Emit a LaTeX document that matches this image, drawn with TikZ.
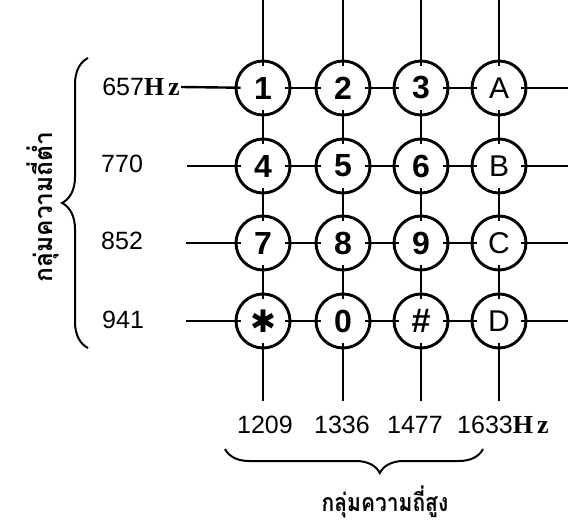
\documentclass[tikz,border=0pt]{standalone}
\usepackage{fontspec}
\setmainfont{Liberation Sans}
\newfontfamily\hzfont{Liberation Serif}
\newfontfamily\thaifont[Script=Thai]{Loma}
\newfontfamily\symfont{DejaVu Sans}
\usetikzlibrary{decorations.pathreplacing}
\newcommand{\hzlab}{{\hzfont\bfseries\fontsize{26}{26}\selectfont H\hspace{4pt}z}}
\begin{document}
\begin{tikzpicture}[x=1pt,y=-1pt,
  key/.style={circle,draw,line width=2.9pt,minimum size=54pt,inner sep=0pt,
    font=\fontsize{32}{32}\selectfont\bfseries},
  keyl/.style={key,font=\fontsize{30}{30}\selectfont},
  wire/.style={line width=2.4pt,shorten <=-6pt,shorten >=-6pt},
  wirein/.style={line width=2.4pt,shorten >=-6pt},
  wireout/.style={line width=2.4pt,shorten <=-6pt},
  freq/.style={inner sep=0pt,font=\fontsize{25}{25}\selectfont},
  bfreq/.style={inner sep=0pt,font=\fontsize{25}{25}\selectfont},
  thai/.style={inner sep=0pt,font=\thaifont\bfseries\fontsize{25}{25}\selectfont},
  bracel/.style={line width=2pt,decorate}
]
\useasboundingbox (0,0) rectangle (568,524);

% keys
\node[key] (k11) at (263,88) {1};
\node[key] (k12) at (343,88) {2};
\node[key] (k13) at (421,88) {3};
\node[keyl] (k14) at (499,88) {A};
\node[key] (k21) at (263,166) {4};
\node[key] (k22) at (343,166) {5};
\node[key] (k23) at (421,166) {6};
\node[keyl] (k24) at (499,166) {B};
\node[key] (k31) at (263,243) {7};
\node[key] (k32) at (343,243) {8};
\node[key] (k33) at (421,243) {9};
\node[keyl] (k34) at (499,243) {C};
\node[key] (k41) at (263,321) {{\symfont\fontsize{31}{31}\selectfont ✱}};
\node[key] (k42) at (343,321) {0};
\node[key,font=\fontsize{34}{34}\selectfont\bfseries] (k43) at (421,321) {\#};
\node[keyl] (k44) at (499,321) {D};

% free ends
\coordinate (t1) at (263,0);
\coordinate (t2) at (343,0);
\coordinate (t3) at (421,0);
\coordinate (t4) at (499,0);
\coordinate (b1) at (263,401);
\coordinate (b2) at (343,401);
\coordinate (b3) at (421,401);
\coordinate (b4) at (499,401);
\coordinate (l2) at (187,166);
\coordinate (l3) at (186,243);
\coordinate (l4) at (186,321);
\coordinate (r1) at (568,88);
\coordinate (r2) at (568,166);
\coordinate (r3) at (568,243);
\coordinate (r4) at (568,321);

% left labels
\node[freq,anchor=east] (f1) at (180,87) {657\hzlab};
\node[freq,anchor=west] (f2) at (101,164) {770};
\node[freq,anchor=west] (f3) at (101,241) {852};
\node[freq,anchor=west] (f4) at (102,320) {941};

% bottom labels
\node[bfreq] (g1) at (265,425) {1209};
\node[bfreq] (g2) at (342,425) {1336};
\node[bfreq] (g3) at (415,425) {1477};
\node[bfreq,anchor=west] (g4) at (457,425) {1633\hzlab};

% vertical wires
\foreach \c in {1,2,3,4}{
  \draw[wirein] (t\c) -- (k1\c);
  \draw[wire] (k1\c) -- (k2\c);
  \draw[wire] (k2\c) -- (k3\c);
  \draw[wire] (k3\c) -- (k4\c);
  \draw[wireout] (k4\c) -- (b\c);
}
% horizontal wires
\draw[wirein] ([xshift=1pt]f1.east) -- (k11);
\draw[wirein] (l2) -- (k21);
\draw[wirein] (l3) -- (k31);
\draw[wirein] (l4) -- (k41);
\foreach \r in {1,2,3,4}{
  \draw[wire] (k\r1) -- (k\r2);
  \draw[wire] (k\r2) -- (k\r3);
  \draw[wire] (k\r3) -- (k\r4);
  \draw[wireout] (k\r4) -- (r\r);
}

% braces
\draw[bracel,decoration={brace,amplitude=26pt,aspect=0.5}] (88,348) -- (88,58);
\draw[bracel,decoration={brace,amplitude=24pt,aspect=0.6,mirror}] (225,449) -- (483,449);

% group labels
\node[thai,rotate=90] (lowg) at (43,207) {\scalebox{0.98}[1]{กลุ่มความถี่ต่ำ}};
\node[thai] (highg) at (385,502) {\scalebox{0.84}[1]{กลุ่มความถี่สูง}};
\end{tikzpicture}
\end{document}
